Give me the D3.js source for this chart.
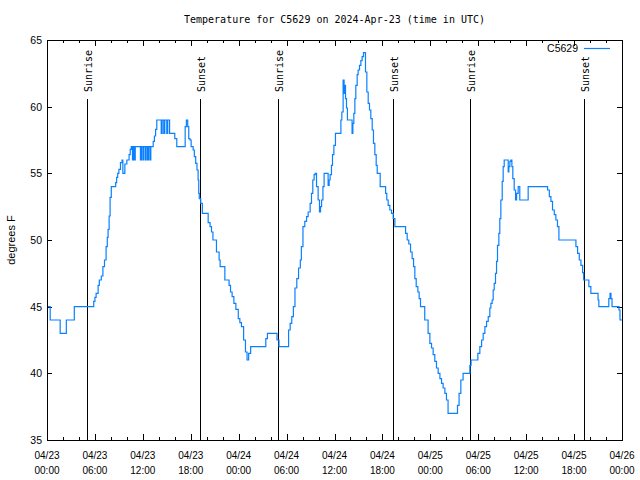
<!DOCTYPE html>
<html>
<head>
<meta charset="utf-8">
<script src="https://cdn.jsdelivr.net/npm/d3@7"></script>
<style>
  html, body { margin: 0; padding: 0; background: #fff; }
  svg { display: block; }
</style>
</head>
<body>
<svg id="chart" width="640" height="480"></svg>
<script>
// ---- data (hours after 2024-04-23 00:00 UTC, temperature °F) ----
const startTime = "2024-04-23T00:00:00Z";
const endTime = "2024-04-26T00:00:00Z";
const hours = [
  0, 0.4, 1.65, 2.42, 3.42, 5.85, 6.0, 6.15, 6.4, 6.55, 6.8, 7.0, 7.2, 7.4, 7.55, 7.65, 7.78, 7.9, 8.05,
  8.6, 8.72, 8.85, 9.0, 9.2, 9.4, 9.5, 9.75, 10.0, 10.28, 10.42, 10.55, 10.7, 10.82, 10.95, 11.05,
  11.7, 11.82, 12.0, 12.1, 12.3, 12.42, 12.6, 12.72, 12.9, 13.0, 13.3, 13.45, 13.6, 13.75,
  14.3, 14.42, 14.62, 14.75, 15.0, 15.12, 15.35, 16.0, 16.25, 17.3, 17.45, 17.62, 17.75, 17.9,
  18.05, 18.3, 18.45, 18.62, 18.78, 18.92, 19.0, 19.07, 19.25, 19.45, 20.18, 20.42, 20.6, 20.78,
  21.22, 21.55, 21.68, 22.27, 22.8, 22.98, 23.18, 23.4, 23.65, 23.95, 24.15, 24.35, 24.62, 24.85,
  25.05, 25.25, 25.5, 27.4, 27.6, 28.8, 29.05, 30.25, 30.45, 30.65, 30.85, 31.05, 31.28, 31.5,
  31.72, 31.85, 32.05, 32.28, 32.5, 32.7, 32.95, 33.12, 33.28, 33.45, 33.58, 33.75, 33.95, 34.12,
  34.25, 34.38, 34.55, 34.7, 35.2, 35.33, 35.45, 35.62, 35.75, 35.92, 36.12, 36.8, 36.92, 37.08,
  37.2, 37.3, 37.38, 37.5, 37.62, 38.2, 38.3, 38.42, 38.55, 38.67, 38.84, 38.96, 39.13, 39.3,
  39.46, 39.63, 39.88, 40.05, 40.22, 40.38, 40.55, 40.72, 40.88, 41.05, 41.22, 41.35, 41.72,
  42.4, 42.55, 42.72, 42.93, 43.14, 43.35, 43.56, 44.9, 45.1, 45.3, 45.52, 45.72, 45.9, 46.06,
  46.23, 46.44, 46.6, 46.77, 47.3, 47.72, 47.94, 48.15, 48.35, 48.56, 48.77, 48.98, 49.2, 49.4,
  49.6, 49.82, 50.02, 50.22, 51.4, 51.6, 51.82, 52.1, 52.95, 53.1, 53.95, 54.2, 54.42, 54.62,
  54.83, 55.04, 55.25, 55.45, 55.58, 55.74, 55.87, 56.0, 56.16, 56.29, 56.41, 56.58, 56.7, 56.83,
  57.0, 57.12, 57.25, 57.75, 57.83, 57.96, 58.08, 58.21, 58.33, 58.5, 58.67, 58.8, 59.0, 59.2,
  60.25, 62.68, 62.9, 63.1, 63.3, 63.52, 63.72, 63.92, 64.1, 66.23, 66.44, 66.65, 66.86, 67.07,
  67.2, 67.85, 68.1, 69.0, 69.1, 70.35, 70.5, 70.62, 70.75, 71.62, 71.75, 72
];
const temps = [
  45, 44, 43, 44, 45, 45.4, 45.7, 46, 46.6, 47, 47.3, 48, 48.5, 49.5, 50.2, 50.8, 51.8, 53.2, 54,
  54.3, 54.7, 55, 55.3, 55.8, 56, 55, 55.7, 56, 56.4, 56.8, 57, 56, 57, 56, 57,
  56, 57, 56, 57, 56, 57, 56, 57, 56, 57, 57.4, 57.8, 58.3, 59,
  58, 59, 58, 59, 58, 59, 58, 57.6, 57, 58.5, 59, 58.5, 57.6, 57.5,
  57, 56.75, 56.25, 55.75, 55.25, 54.5, 53.5, 53.1, 52.75, 52, 51.3, 51, 50.6, 50,
  49.1, 48.5, 48, 47, 46.6, 46.1, 45.75, 45.25, 44.8, 44.1, 43.8, 43.5, 42.5, 41.6,
  41, 41.5, 42, 42.6, 43, 42.5, 42, 43.25, 43.75, 44.25, 45, 46.4, 47.1, 47.9,
  48.5, 49.5, 51, 51.4, 51.75, 52.1, 52.75, 53.5, 54.5, 54.9, 55, 54, 53, 52.1,
  52.5, 53, 54, 55, 54.1, 54.5, 54.9, 55.6, 56.4, 57.1, 58, 59, 59.6, 62,
  61, 61.6, 60.6, 59.9, 59, 58, 58.75, 59.5, 60.6, 61.6, 62.4, 62.75, 63.1, 63.45,
  63.75, 64.05, 62.6, 61.1, 60.25, 59.75, 59.1, 58.25, 57.25, 56.4, 55.6, 55, 54,
  53.5, 53, 52.6, 52.25, 52, 51.6, 51, 50.5, 50, 49.7, 49.1, 48.6, 48, 47.1,
  46.5, 46.1, 45.6, 45, 44, 43, 42.25, 41.9, 41.4, 40.9, 40.4, 40, 39.6, 39.25,
  38.9, 38.5, 38, 37, 37.6, 38.5, 39.5, 40, 40.6, 41, 41.5, 42, 42.5, 43,
  43.5, 43.9, 44.25, 44.9, 45.25, 45.5, 46.25, 46.75, 47.5, 48.4, 49.6, 50.5, 51.6, 53,
  54.4, 55.5, 56, 55.1, 55.5, 55.9, 56, 55.5, 54.6, 53.75, 53, 53.5, 54, 53,
  54, 53.75, 53.25, 52.9, 52.25, 51.9, 51.5, 51, 50, 49.5, 49, 48.5, 48.1, 47.55,
  47, 46.5, 46, 45.5, 45, 45.6, 46, 45.6, 45, 44.75, 44, 44
];
const sunEvents = ["Sunrise", "Sunset", "Sunrise", "Sunset", "Sunrise", "Sunset"];
const sunTimes = [
  "2024-04-23T05:02:00Z", "2024-04-23T19:12:00Z",
  "2024-04-24T04:59:00Z", "2024-04-24T19:16:00Z",
  "2024-04-25T05:00:00Z", "2024-04-25T19:17:00Z"
];
const yTicks = [35, 40, 45, 50, 55, 60, 65];
const seriesName = "C5629";
const titleText = "Temperature for C5629 on 2024-Apr-23 (time in UTC)";
const yLabel = "degrees F";

// ---- layout ----
const svg = d3.select("#chart");
const L = 47, R = 622, T = 40, B = 440;
const t0 = new Date(startTime), t1 = new Date(endTime);
const x = d3.scaleUtc().domain([t0, t1]).range([L, R]);
const y = d3.scaleLinear().domain([35, 65]).range([B, T]);
const lineColor = "#0a80ff";
const monoFont = "'DejaVu Sans Mono', monospace";
const sansFont = "'Liberation Sans', Arial, sans-serif";

const data = hours.map((h, i) => ({ t: new Date(t0.getTime() + h * 3600e3), v: temps[i] }));

// title
svg.append("text").attr("x", (L + R) / 2).attr("y", 23)
  .attr("text-anchor", "middle").style("font-family", monoFont).style("font-size", "10px")
  .text(titleText);

// y label
svg.append("text").attr("transform", `translate(15,${(T + B) / 2}) rotate(-90)`)
  .attr("text-anchor", "middle").style("font-family", sansFont).style("font-size", "11px")
  .text(yLabel);

// ticks
const major = d3.utcHour.every(6).range(t0, new Date(t1.getTime() + 1));
const minor = d3.utcHour.every(2).range(t0, new Date(t1.getTime() + 1)).filter(d => d.getUTCHours() % 6 !== 0);
const tickG = svg.append("g").attr("stroke", "#000").attr("stroke-width", 1);
major.forEach(d => {
  const xx = Math.round(x(d)) + 0.5;
  tickG.append("line").attr("x1", xx).attr("x2", xx).attr("y1", B).attr("y2", B - 6);
  tickG.append("line").attr("x1", xx).attr("x2", xx).attr("y1", T).attr("y2", T + 6);
});
minor.forEach(d => {
  const xx = Math.round(x(d)) + 0.5;
  tickG.append("line").attr("x1", xx).attr("x2", xx).attr("y1", B).attr("y2", B - 3);
  tickG.append("line").attr("x1", xx).attr("x2", xx).attr("y1", T).attr("y2", T + 3);
});
yTicks.forEach(v => {
  const yy = Math.round(y(v)) + 0.5;
  tickG.append("line").attr("x1", L).attr("x2", L + 5).attr("y1", yy).attr("y2", yy);
  tickG.append("line").attr("x1", R).attr("x2", R - 5).attr("y1", yy).attr("y2", yy);
});

// y tick labels
svg.append("g").selectAll("text").data(yTicks).join("text")
  .attr("x", L - 5).attr("y", d => y(d) + 4)
  .attr("text-anchor", "end").style("font-family", sansFont).style("font-size", "10.5px")
  .text(d => d);

// x tick labels
const fmtD = d3.utcFormat("%m/%d"), fmtT = d3.utcFormat("%H:%M");
const xl = svg.append("g").selectAll("text").data(major).join("text")
  .attr("text-anchor", "middle").style("font-family", sansFont).style("font-size", "10px");
xl.append("tspan").attr("x", d => x(d)).attr("y", 459).text(d => fmtD(d));
xl.append("tspan").attr("x", d => x(d)).attr("y", 474).text(d => fmtT(d));

// sun lines
const sun = sunTimes.map((s, i) => ({ t: new Date(s), label: sunEvents[i] }));
const sg = svg.append("g");
sg.selectAll("line").data(sun).join("line")
  .attr("x1", d => Math.round(x(d.t)) + 0.5).attr("x2", d => Math.round(x(d.t)) + 0.5)
  .attr("y1", 99).attr("y2", B).attr("stroke", "#000").attr("stroke-width", 1);
sg.selectAll("text").data(sun).join("text")
  .attr("transform", d => `translate(${Math.round(x(d.t)) + 4.5},92) rotate(-90)`)
  .attr("text-anchor", "start")
  .style("font-family", monoFont).style("font-size", "10px")
  .text(d => d.label);

// data line
const line = d3.line().x(d => x(d.t)).y(d => y(d.v)).curve(d3.curveStepAfter);
svg.append("path").datum(data).attr("d", line)
  .attr("fill", "none").attr("stroke", lineColor).attr("stroke-width", 1.2);

// frame
svg.append("rect").attr("x", L + 0.5).attr("y", T + 0.5).attr("width", R - L).attr("height", B - T)
  .attr("fill", "none").attr("stroke", "#000").attr("stroke-width", 1);

// legend
svg.append("text").attr("x", 578).attr("y", 52).attr("text-anchor", "end")
  .style("font-family", sansFont).style("font-size", "10.5px").text(seriesName);
svg.append("line").attr("x1", 584).attr("x2", 610).attr("y1", 48.5).attr("y2", 48.5)
  .attr("stroke", lineColor).attr("stroke-width", 1.2);
</script>
</body>
</html>
